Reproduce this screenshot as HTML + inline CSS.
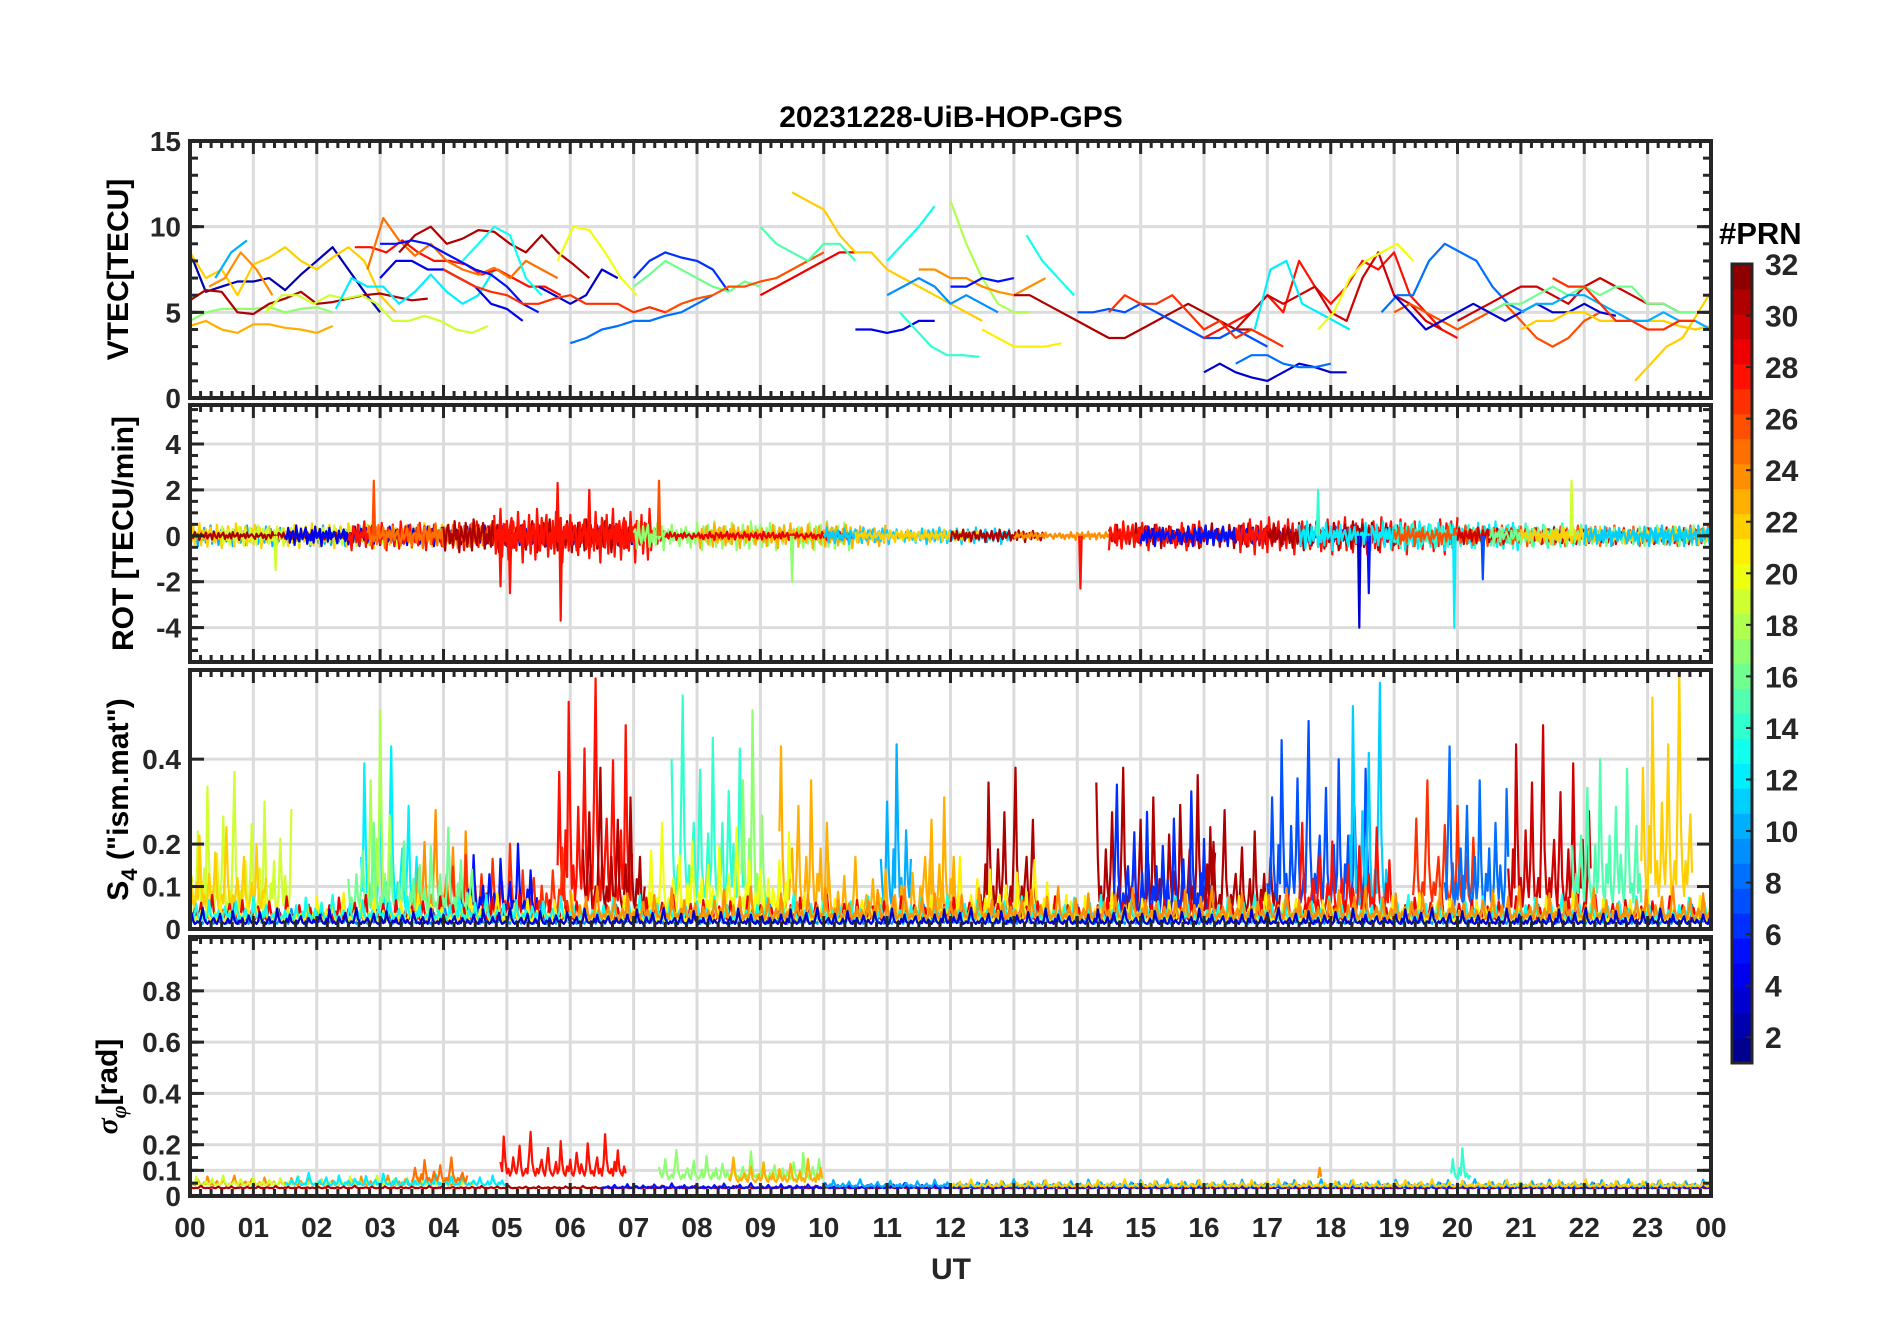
<!DOCTYPE html>
<html><head><meta charset="utf-8"><style>
html,body{margin:0;padding:0;background:#fff;}
svg{display:block;font-family:"Liberation Sans",sans-serif;font-weight:bold;}
</style></head><body>
<svg id="chart" width="1902" height="1330" viewBox="0 0 1902 1330" xmlns="http://www.w3.org/2000/svg">
<rect width="1902" height="1330" fill="#fff"/>
<text x="951" y="127" text-anchor="middle" font-size="30" fill="#000">20231228-UiB-HOP-GPS</text>
<text x="951" y="1279" text-anchor="middle" font-size="30" fill="#262626">UT</text>
<text x="1719" y="244" font-size="31" fill="#000">#PRN</text>
</svg>
<script>
const hours=[0,1,2,3,4,5,6,7,8,9,10,11,12,13,14,15,16,17,18,19,20,21,22,23,24];
const hourLabels=["00","01","02","03","04","05","06","07","08","09","10","11","12","13","14","15","16","17","18","19","20","21","22","23","00"];
const vtecTicks=[0,5,10,15];
const rotTicks=[-4,-2,0,2,4];
const s4Ticks=[0,0.1,0.2,0.4];
const sigTicks=[0,0.1,0.2,0.4,0.6,0.8];
const cbTicks=[2,4,6,8,10,12,14,16,18,20,22,24,26,28,30,32];
const vtecTracks=[
{p:2,t0:0,v:[8.5,6.2,6.5,6.8,6.8,7,6.3,7.2,8,8.8,7.5,6.2,5]},
{p:22,t0:0,v:[8.5,7,7.5,6,7.8,8.2,8.8,8,7.5,8.2,8.8,8,6,5]},
{p:23,t0:0,v:[4.2,4.5,4,3.8,4.3,4.3,4.1,4,3.8,4.2]},
{p:17,t0:0,v:[4.5,5,5.2,5.2,5.2,5.3,5,5.2,5.3,5]},
{p:31,t0:0,v:[5.7,6.3,6.2,5,4.9,5.5,5.8,6.2,5.5,5.6,5.8,6,6.1,5.9,5.7,5.8]},
{p:10,t0:0.4,v:[7,8.5,9.2]},
{p:24,t0:0.3,v:[6.5,7,8.5,7.5,6]},
{p:19,t0:1.2,v:[5,6,6,5.5,6,5.8,6,5.5,4.5,4.5,4.8,4.5,4,3.8,4.2]},
{p:12,t0:2.3,v:[5.2,7,6.5,6.5,5.5,6.2,7.2,6.2,5.5,6,7.5]},
{p:28,t0:2.6,v:[8.8,8.8,8.5,9.2,8.5,8,8,7.8,7.2,7.5,7,6.5,6.5,6]},
{p:25,t0:2.8,v:[7.5,10.5,9.2,8.3,9,8,7.5,7.2,7.6,7,8,7.5,7]},
{p:31,t0:3.3,v:[8.5,9.5,10,9,9.3,9.8,9.7,9,8.5,9.5,8.5,7.8,7]},
{p:5,t0:3.0,v:[9,9,9.2,9,8.5,8,7.5,7.2,6.5,5.5,5]},
{p:4,t0:3.0,v:[7,8,8,7.5,7.5,7,6.5,5.5,5.2,4.5]},
{p:13,t0:4.3,v:[8,9,10,9.5,7,6]},
{p:20,t0:5.8,v:[8,10,9.8,8.5,7,6]},
{p:3,t0:5.5,v:[6.5,6,5.5,6,7.5,7]},
{p:27,t0:4.0,v:[7.5,7,6.5,6.2,6,5.5,5.5,5.8,6,5.5,5.5,5.5,5,5.3,5,5.5]},
{p:8,t0:6,v:[3.2,3.5,4,4.2,4.5,4.5,4.8,5,5.5,6]},
{p:6,t0:7,v:[7,8,8.5,8.2,8,7.5,6.2]},
{p:16,t0:7,v:[6.5,7.2,8,7.5,7,6.5,6.2,6.8,6.5]},
{p:26,t0:7.5,v:[5,5.5,5.8,6,6.5,6.5,6.8,7,7.5,8,8.5]},
{p:29,t0:9,v:[6,6.5,7,7.5,8,8.5,8.5]},
{p:22,t0:9.5,v:[12,11.5,11,9.5,8.5,8.5,7.5,7,6.5,6,5.5,5,4.5]},
{p:15,t0:9,v:[10,9,8.5,8,9,9,8]},
{p:13,t0:11,v:[8,9,10,11.2]},
{p:18,t0:12,v:[11.5,9,7,5.5,5,5]},
{p:9,t0:11,v:[6,6.5,7,6.5,5.5,6,5.5,5]},
{p:24,t0:11.5,v:[7.5,7.5,7,7,6.5,6.2,6,6.5,7]},
{p:4,t0:10.5,v:[4,4,3.8,4,4.5,4.5]},
{p:14,t0:11.2,v:[5,4,3,2.5,2.5,2.4]},
{p:21,t0:12.5,v:[4,3.5,3,3,3,3.2]},
{p:5,t0:12,v:[6.5,6.5,7,6.8,7]},
{p:13,t0:13.2,v:[9.5,8,7,6]},
{p:31,t0:13,v:[6,6,5.5,5,4.5,4,3.5,3.5,4,4.5,5,5.5,5,4.5,4,4]},
{p:7,t0:14,v:[5,5,5.2,5,5.5,5,4.5,4,3.5,3.5,4,3.5,3]},
{p:27,t0:14.5,v:[5,6,5.5,5.5,6,5,4,4.5,3.5,4,3.5,3]},
{p:3,t0:16,v:[1.5,2,1.5,1.2,1,1.5,2,1.8,1.5,1.5]},
{p:8,t0:16.5,v:[2,2.5,2.5,2,1.8,1.8,2]},
{p:28,t0:16,v:[3.5,4,4.5,5,6,5,8,6.5,5.5,6.5,8,7.5,8.5,6,5,4,3.5]},
{p:30,t0:16.5,v:[4,5,6,5.5,6,6.5,5,4.5,7,8.5,6,5.5,4.5,4]},
{p:12,t0:16.8,v:[4,7.5,8,5.5,5,4.5,4]},
{p:20,t0:17.8,v:[4,5,7,8,8.5,9,8]},
{p:8,t0:18.8,v:[5,6,6,8,9,8.5,8,6.5,5.5,5]},
{p:26,t0:19,v:[5,5.5,5,4.5,4,4.5,5,5.5,4.5,3.5,3,3.5,4.5,5]},
{p:30,t0:20,v:[4.5,5,5.5,6,6.5,6.5,6,5.5,6.5,7,6.5,6,5.5,5.5,5]},
{p:16,t0:20.5,v:[5,5.5,5.5,6,6.5,6,6.5,6,6.5,6.5,5.5,5.5,5,5]},
{p:3,t0:19,v:[6,5,4,4.5,5,5.5,5,4.5,5,5.5,5,5,5.5,5,4.8]},
{p:22,t0:21,v:[4,4.5,4.5,5,5,4.5,4.5,4.5,4.5,4.5,4.2,4,4.2,4,4.5,4.8,5]},
{p:10,t0:21,v:[5,5.5,5.5,6,6,5.5,5,4.5,4.5,5,4.5,4.5,4]},
{p:22,t0:22.8,v:[1,2,3,3.5,5,6.5,6.5]},
{p:27,t0:21.5,v:[7,6.5,6.5,5.5,4.5,4.5,4,4,4.5,4.5]}
];
const noise=[0.2,-0.5,0.8,-0.3,0.1,-0.9,0.6,0.3,-0.4,0.7,-0.6,0.2,-0.1,0.9,-0.7,0.4,-0.2,0.5,-0.8,0.3,0.6,-0.4,0.1,-0.5,0.8,-0.2,0.3,-0.9,0.5,0.0,-0.3,0.7,-0.6,0.2,0.4,-0.8,0.9,-0.1,-0.5,0.6,-0.3,0.2,0.7,-0.7,0.1,-0.4,0.5,-0.6,0.8,-0.2,0.0,0.6,-0.9,0.3,-0.1,0.4,-0.5,0.7,-0.3,0.1,0.35,-0.15,-0.65,0.45,-0.25,0.05,0.55,-0.45,0.25,-0.75,0.15];
const pulse=[0.1,0.3,0.15,0.05,0.2,0.6,0.25,0.1,0.05,0.35,0.15,0.9,0.4,0.1,0.2,0.05,0.15,0.45,0.2,0.1,0.3,0.7,0.25,0.05,0.1,0.2,0.1,0.5,1.0,0.35,0.15,0.05,0.2,0.1,0.25,0.4,0.15,0.05,0.3,0.65,0.2,0.1,0.05,0.15,0.35,0.1,0.2,0.8,0.3,0.1,0.05,0.25,0.15,0.4,0.1,0.05,0.2,0.55,0.25,0.1,0.3,0.15,0.05,0.2,0.75,0.35,0.1,0.15,0.05,0.25,0.45,0.1,0.2,0.05,0.3,0.95,0.4,0.15,0.1,0.2,0.05,0.35,0.15,0.6,0.2,0.1,0.05,0.25,0.1,0.3,0.5,0.15,0.05,0.2,0.1,0.4,0.15];
const rotTracks=[
{p:10,t0:0,t1:6,a:0.5,o:0},{p:22,t0:0,t1:4,a:0.6,o:7},{p:19,t0:0.5,t1:5,a:0.5,o:13},{p:31,t0:0,t1:5,a:0.2,o:21},
{p:4,t0:1.5,t1:7,a:0.5,o:29},{p:28,t0:2.5,t1:7.5,a:0.7,o:3},{p:25,t0:2.8,t1:6,a:0.6,o:41},{p:31,t0:4,t1:7,a:0.8,o:17},
{p:28,t0:4.8,t1:7.3,a:1.3,o:9},{p:17,t0:7,t1:10.5,a:0.7,o:33},{p:23,t0:8,t1:11,a:0.6,o:25},{p:29,t0:7.5,t1:10.5,a:0.2,o:45},
{p:11,t0:10,t1:13,a:0.4,o:11},{p:22,t0:10.5,t1:12.5,a:0.3,o:51},{p:31,t0:12,t1:13.5,a:0.3,o:5},{p:24,t0:13,t1:15,a:0.2,o:37},
{p:31,t0:14.5,t1:17,a:0.6,o:19},{p:28,t0:14.5,t1:16,a:0.7,o:27},{p:5,t0:15,t1:19,a:0.5,o:43},{p:28,t0:16.5,t1:20,a:0.9,o:15},
{p:31,t0:17,t1:19,a:0.7,o:53},{p:12,t0:17.5,t1:21,a:0.7,o:31},{p:14,t0:19,t1:22,a:0.6,o:1},{p:26,t0:19,t1:24,a:0.5,o:39},
{p:30,t0:20,t1:24,a:0.4,o:23},{p:16,t0:20.5,t1:24,a:0.5,o:49},{p:22,t0:21,t1:24,a:0.4,o:57},{p:11,t0:22,t1:24,a:0.5,o:35}
];
const rotSpikeT=[5.85,5.8,2.9,7.4,14.05,18.45,19.95,17.8,4.9,5.05,6.3,18.6,20.4,1.35,9.5,21.8];
const rotSpikeV=[-3.7,2.3,2.4,2.4,-2.3,-4.0,-4.0,2.0,-2.2,-2.5,2.0,-2.5,-1.9,-1.5,-2.0,2.4];
const rotSpikeP=[28,28,26,26,28,3,12,14,28,28,28,5,7,19,17,19];
const s4Tracks=[
{p:19,t0:0,t1:1.6,b:0.02,a:0.35,o:0},{p:22,t0:0,t1:1.2,b:0.04,a:0.2,o:5},{p:12,t0:2.7,t1:3.6,b:0.03,a:0.4,o:9},
{p:18,t0:2.8,t1:3.2,b:0.02,a:0.55,o:3},{p:24,t0:3.5,t1:4.5,b:0.03,a:0.25,o:13},{p:28,t0:5.8,t1:7.0,b:0.04,a:0.55,o:4},
{p:31,t0:6.2,t1:7.2,b:0.03,a:0.35,o:17},{p:14,t0:7.6,t1:8.8,b:0.05,a:0.5,o:21},{p:17,t0:8.7,t1:9.1,b:0.02,a:0.55,o:4},
{p:23,t0:9.3,t1:10.1,b:0.03,a:0.4,o:27},{p:10,t0:10.9,t1:11.4,b:0.03,a:0.45,o:1},{p:23,t0:11.5,t1:12.1,b:0.03,a:0.35,o:31},
{p:31,t0:12.5,t1:13.4,b:0.03,a:0.35,o:7},{p:31,t0:14.3,t1:16.2,b:0.03,a:0.35,o:11},{p:6,t0:14.5,t1:16.2,b:0.02,a:0.32,o:23},
{p:31,t0:16,t1:17.2,b:0.03,a:0.25,o:15},{p:7,t0:17,t1:18.6,b:0.04,a:0.45,o:2},{p:11,t0:18.3,t1:18.9,b:0.03,a:0.55,o:9},
{p:27,t0:19.3,t1:20.3,b:0.05,a:0.3,o:19},{p:8,t0:19.8,t1:20.8,b:0.03,a:0.4,o:25},{p:30,t0:20.8,t1:22.1,b:0.03,a:0.45,o:6},
{p:15,t0:21.8,t1:22.9,b:0.04,a:0.45,o:29},{p:22,t0:22.9,t1:23.7,b:0.05,a:0.55,o:4},{p:27,t0:4,t1:6,b:0.03,a:0.18,o:33},
{p:5,t0:4.2,t1:5.5,b:0.03,a:0.18,o:36},{p:16,t0:2.5,t1:4.5,b:0.03,a:0.22,o:12},{p:20,t0:7.2,t1:9.5,b:0.03,a:0.22,o:18},
{p:23,t0:10,t1:12.2,b:0.02,a:0.15,o:8},{p:21,t0:12,t1:14,b:0.02,a:0.15,o:22},{p:28,t0:17.5,t1:19,b:0.03,a:0.22,o:26},
{p:9,t0:0,t1:24,b:0.01,a:0.05,o:0},{p:29,t0:0,t1:24,b:0.02,a:0.06,o:14},{p:21,t0:0,t1:24,b:0.015,a:0.07,o:28},
{p:13,t0:0,t1:24,b:0.02,a:0.06,o:35},{p:24,t0:6,t1:24,b:0.02,a:0.08,o:11},{p:3,t0:0,t1:24,b:0.01,a:0.04,o:20}
];
const sigTracks=[
{p:24,t0:0,t1:4.4,b:0.04,a:0.04,o:0},{p:19,t0:0,t1:4.5,b:0.04,a:0.04,o:7},{p:12,t0:1.5,t1:5,b:0.04,a:0.05,o:13},
{p:31,t0:0,t1:24,b:0.03,a:0.01,o:21},{p:25,t0:3.5,t1:4.4,b:0.05,a:0.1,o:3},{p:28,t0:4.9,t1:6.9,b:0.07,a:0.18,o:9},
{p:17,t0:7.4,t1:10,b:0.06,a:0.12,o:17},{p:23,t0:8.5,t1:10,b:0.05,a:0.1,o:25},{p:5,t0:6.5,t1:24,b:0.03,a:0.02,o:31},
{p:10,t0:10,t1:24,b:0.035,a:0.03,o:5},{p:14,t0:19.9,t1:20.2,b:0.06,a:0.14,o:4},{p:24,t0:17.8,t1:17.85,b:0.05,a:0.1,o:4},
{p:22,t0:12,t1:24,b:0.035,a:0.03,o:15}
];
const cbPrn=[];for(let i=1;i<=32;i++)cbPrn.push(i);

const NS='http://www.w3.org/2000/svg';
const svg=document.getElementById('chart');
const L=190,R=1711;
const xs=t=>L+t/24*(R-L);
function jet(p){const v=(p-0.5)/32;const c=x=>Math.round(255*Math.max(0,Math.min(1,1.5-Math.abs(4*v-x))));return `rgb(${c(3)},${c(2)},${c(1)})`;}
function mk(tag,attrs,parent){const e=document.createElementNS(NS,tag);for(const k in attrs)e.setAttribute(k,attrs[k]);(parent||svg).appendChild(e);return e;}
const panels=[
{name:'vtec',top:141,bot:398,min:0,max:15,ticks:vtecTicks,minor:1,label:'VTEC[TECU]',lx:128},
{name:'rot',top:405,bot:662,min:-5.5,max:5.7,ticks:rotTicks,minor:0.5,label:'ROT [TECU/min]',lx:133},
{name:'s4',top:670,bot:929,min:0,max:0.61,ticks:s4Ticks,minor:0,label:'s4',lx:128},
{name:'sigma',top:937,bot:1196,min:0,max:1.01,ticks:sigTicks,minor:0.05,label:'sig',lx:117}
];
panels.forEach((P,pi)=>{
  P.ys=v=>P.bot-(v-P.min)/(P.max-P.min)*(P.bot-P.top);
  const g=mk('g',{});
  
  
  const cp=mk('clipPath',{id:'clip'+pi},g);mk('rect',{x:L,y:P.top,width:R-L,height:P.bot-P.top},cp);
  hours.forEach(h=>{const l=mk('line',{x1:xs(h),x2:xs(h),y1:P.top,y2:P.bot,stroke:'#dcdcdc','stroke-width':3},g);
    });
  P.ticks.forEach(v=>{const l=mk('line',{x1:L,x2:R,y1:P.ys(v),y2:P.ys(v),stroke:'#dcdcdc','stroke-width':3},g);
    });
  P.g=mk('g',{'clip-path':`url(#clip${pi})`,fill:'none','stroke-width':2.2,'stroke-linejoin':'round'},g);
  P.frame=g;
});
function poly(P,pts,color,name){const pl=mk('polyline',{points:pts.map(q=>q[0].toFixed(1)+','+q[1].toFixed(1)).join(' '),stroke:color},P.g);
  }
vtecTracks.forEach(tr=>{poly(panels[0],tr.v.map((v,i)=>[xs(tr.t0+i*0.25),panels[0].ys(v)]),jet(tr.p),'vtec-prn-'+tr.p);});
const dt=0.025;
rotTracks.forEach(tr=>{const pts=[];let i=0;for(let t=tr.t0;t<=tr.t1;t+=dt,i++){pts.push([xs(t),panels[1].ys(tr.a*noise[(i+tr.o)%noise.length])]);}
  poly(panels[1],pts,jet(tr.p),'rot-prn-'+tr.p);});
rotSpikeT.forEach((t,i)=>{poly(panels[1],[[xs(t-0.02),panels[1].ys(0)],[xs(t),panels[1].ys(rotSpikeV[i])],[xs(t+0.02),panels[1].ys(0)]],jet(rotSpikeP[i]),'rot-spike');});
s4Tracks.forEach(tr=>{const pts=[];let i=0;for(let t=tr.t0;t<=tr.t1;t+=dt,i++){pts.push([xs(t),panels[2].ys(tr.b+tr.a*pulse[(i+tr.o)%pulse.length])]);}
  poly(panels[2],pts,jet(tr.p),'s4-prn-'+tr.p);});
sigTracks.forEach(tr=>{const pts=[];let i=0;for(let t=tr.t0;t<=tr.t1;t+=dt,i++){pts.push([xs(t),panels[3].ys(tr.b+tr.a*pulse[(i+tr.o)%pulse.length])]);}
  poly(panels[3],pts,jet(tr.p),'sigma-prn-'+tr.p);});
const AX='#262626';
panels.forEach((P,pi)=>{
  const g=P.frame;
  const f=mk('rect',{x:L,y:P.top,width:R-L,height:P.bot-P.top,fill:'none',stroke:AX,'stroke-width':4},g);
  
  for(let m=0;m<=144;m++){const x=xs(m/6);const len=m%6==0?13:7;
    mk('line',{x1:x,x2:x,y1:P.bot,y2:P.bot-len,stroke:AX,'stroke-width':3},g);
    mk('line',{x1:x,x2:x,y1:P.top,y2:P.top+len,stroke:AX,'stroke-width':3},g);}
  if(P.minor){for(let v=Math.ceil(P.min/P.minor)*P.minor;v<=P.max+1e-9;v+=P.minor){const y=P.ys(v);
    mk('line',{x1:L,x2:L+8,y1:y,y2:y,stroke:AX,'stroke-width':3},g);mk('line',{x1:R,x2:R-8,y1:y,y2:y,stroke:AX,'stroke-width':3},g);}}
  P.ticks.forEach(v=>{const y=P.ys(v);
    mk('line',{x1:L,x2:L+14,y1:y,y2:y,stroke:AX,'stroke-width':3},g);mk('line',{x1:R,x2:R-14,y1:y,y2:y,stroke:AX,'stroke-width':3},g);
    const t=mk('text',{x:L-9,y:y+10,'text-anchor':'end','font-size':28,fill:AX},g);t.textContent=String(v);
    });
  let lab;
  const fs=30;
  if(P.label==='s4'){lab=mk('text',{transform:`translate(${P.lx},${(P.top+P.bot)/2}) rotate(-90)`,'text-anchor':'middle','font-size':fs,fill:'#000'},g);
    lab.innerHTML='S<tspan font-size="22" dy="9">4</tspan><tspan dy="-9"> ("ism.mat")</tspan>';}
  else if(P.label==='sig'){lab=mk('text',{transform:`translate(${P.lx},${(P.top+P.bot)/2+20}) rotate(-90)`,'text-anchor':'middle','font-size':fs,fill:'#000'},g);
    lab.innerHTML='<tspan font-family="Liberation Serif" font-style="italic">σ</tspan><tspan font-size="22" dy="9" font-family="Liberation Serif" font-style="italic">φ</tspan><tspan dy="-9">[rad]</tspan>';}
  else{lab=mk('text',{transform:`translate(${P.lx},${(P.top+P.bot)/2}) rotate(-90)`,'text-anchor':'middle','font-size':fs,fill:'#000'},g);lab.textContent=P.label;}
  
});
hours.forEach((h,i)=>{const t=mk('text',{x:xs(h),y:1237,'text-anchor':'middle','font-size':28,fill:AX});t.textContent=hourLabels[i];
  });
const CX=1732,CW=20,CT=264,CB=1063;
const cb=mk('g',{});
const cy=v=>CB-(v-1)/31*(CB-CT);
cbPrn.forEach((p,i)=>{const y0=CB-(i+1)/32*(CB-CT);mk('rect',{x:CX,y:y0,width:CW,height:(CB-CT)/32+0.5,fill:jet(p)},cb);});
mk('rect',{x:CX,y:CT,width:CW,height:CB-CT,fill:'none',stroke:AX,'stroke-width':3},cb);
cbTicks.forEach(v=>{const y=cy(v);mk('line',{x1:CX+CW-6,x2:CX+CW,y1:y,y2:y,stroke:AX,'stroke-width':2},cb);
  const t=mk('text',{x:CX+33,y:y+11,'font-size':30,fill:AX},cb);t.textContent=String(v);
  });
</script>
</body></html>
